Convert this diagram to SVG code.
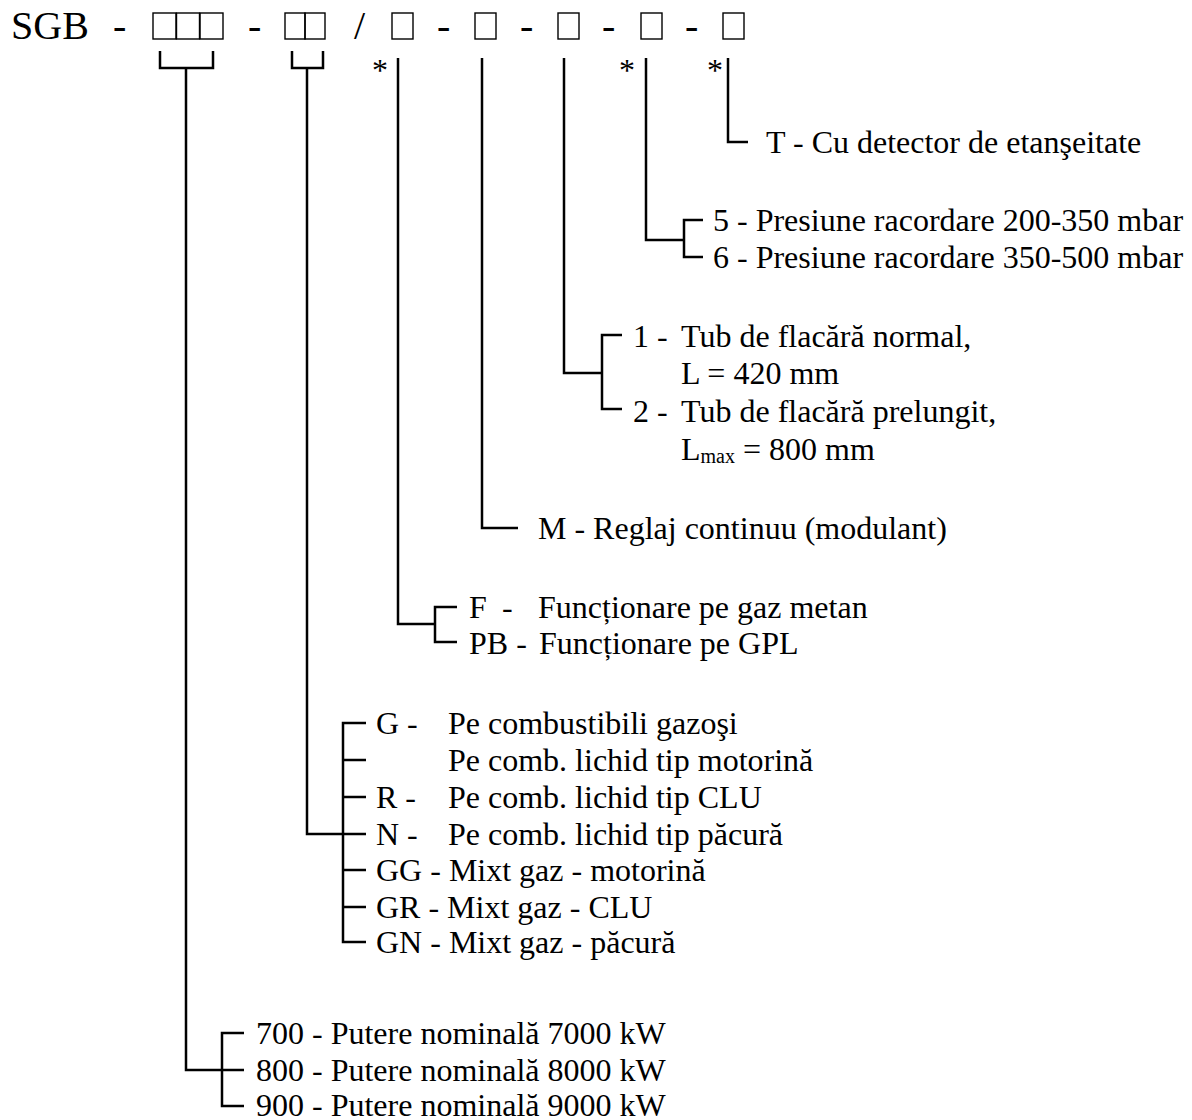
<svg xmlns="http://www.w3.org/2000/svg" width="1192" height="1120" viewBox="0 0 1192 1120">
<style>
.t{font-family:"Liberation Serif","Times New Roman",serif;font-size:32px;fill:#000}
.h{font-size:40px}
.c{fill:none;stroke:#000;stroke-width:2.5;stroke-linejoin:miter}
.b{fill:none;stroke:#000;stroke-width:1.4}
</style>
<rect width="1192" height="1120" fill="#fff"/>
<g id="header">
<text class="t h" x="11" y="39">SGB</text>
<text class="t h" x="113" y="39">-</text>
<rect class="b" x="153" y="13" width="23" height="26"/>
<rect class="b" x="176.5" y="13" width="23" height="26"/>
<rect class="b" x="200" y="13" width="23" height="26"/>
<text class="t h" x="248" y="39">-</text>
<rect class="b" x="285" y="13" width="20" height="26"/>
<rect class="b" x="305" y="13" width="20" height="26"/>
<text class="t h" x="354" y="39">/</text>
<rect class="b" x="392" y="13" width="21" height="26"/>
<text class="t h" x="437" y="39">-</text>
<rect class="b" x="475" y="13" width="21" height="26"/>
<text class="t h" x="520" y="39">-</text>
<rect class="b" x="558" y="13" width="21" height="26"/>
<text class="t h" x="602" y="39">-</text>
<rect class="b" x="641" y="13" width="21" height="26"/>
<text class="t h" x="685" y="39">-</text>
<rect class="b" x="723" y="13" width="21" height="26"/>
<text class="t" x="372" y="81">*</text>
<text class="t" x="619" y="81">*</text>
<text class="t" x="707" y="81">*</text>
</g>
<g id="connectors">
<path class="c" d="M160,51 V68 H213 V51 M186,68 V1070 H222 M244,1033 H222 V1106 H244 M222,1070 H244"/>
<path class="c" d="M292,51 V68 H323 V51 M307,68 V834 H343 M366,723 H343 V942 H366 M343,760 H366 M343,797 H366 M343,834 H366 M343,870 H366 M343,907 H366"/>
<path class="c" d="M398,58 V624 H435 M457,607 H435 V642 H457"/>
<path class="c" d="M482,58 V528 H518"/>
<path class="c" d="M564,58 V373 H602 M622,335 H602 V409 H622"/>
<path class="c" d="M646,58 V240 H684 M703,220 H684 V257 H703"/>
<path class="c" d="M728,58 V142 H748"/>
</g>
<g id="opt-leak">
<text class="t" x="766" y="153">T - Cu detector de etanşeitate</text>
</g>
<g id="opt-pressure">
<text class="t" x="713" y="231">5 - Presiune racordare 200-350 mbar</text>
<text class="t" x="713" y="268">6 - Presiune racordare 350-500 mbar</text>
</g>
<g id="opt-tube">
<text class="t" x="633" y="347">1 -</text>
<text class="t" x="681" y="347">Tub de flacără normal,</text>
<text class="t" x="681" y="384">L = 420 mm</text>
<text class="t" x="633" y="422">2 -</text>
<text class="t" x="681" y="422">Tub de flacără prelungit,</text>
<text class="t" x="681" y="460">L<tspan font-size="20" dy="3">max</tspan><tspan dy="-3"> = 800 mm</tspan></text>
</g>
<g id="opt-regulation">
<text class="t" x="538" y="539">M - Reglaj continuu (modulant)</text>
</g>
<g id="opt-gas">
<text class="t" x="469" y="618">F</text>
<text class="t" x="502" y="618">-</text>
<text class="t" x="538" y="618">Funcționare pe gaz metan</text>
<text class="t" x="469" y="654">PB -</text>
<text class="t" x="539" y="654">Funcționare pe GPL</text>
</g>
<g id="opt-fuel">
<text class="t" x="376" y="734">G -</text>
<text class="t" x="448" y="734">Pe combustibili gazoşi</text>
<text class="t" x="448" y="771">Pe comb. lichid tip motorină</text>
<text class="t" x="376" y="808">R -</text>
<text class="t" x="448" y="808">Pe comb. lichid tip CLU</text>
<text class="t" x="376" y="845">N -</text>
<text class="t" x="448" y="845">Pe comb. lichid tip păcură</text>
<text class="t" x="376" y="881">GG - Mixt gaz - motorină</text>
<text class="t" x="376" y="918">GR - Mixt gaz - CLU</text>
<text class="t" x="376" y="953">GN - Mixt gaz - păcură</text>
</g>
<g id="opt-power">
<text class="t" x="256" y="1044">700 - Putere nominală 7000 kW</text>
<text class="t" x="256" y="1081">800 - Putere nominală 8000 kW</text>
<text class="t" x="256" y="1116">900 - Putere nominală 9000 kW</text>
</g>
</svg>
